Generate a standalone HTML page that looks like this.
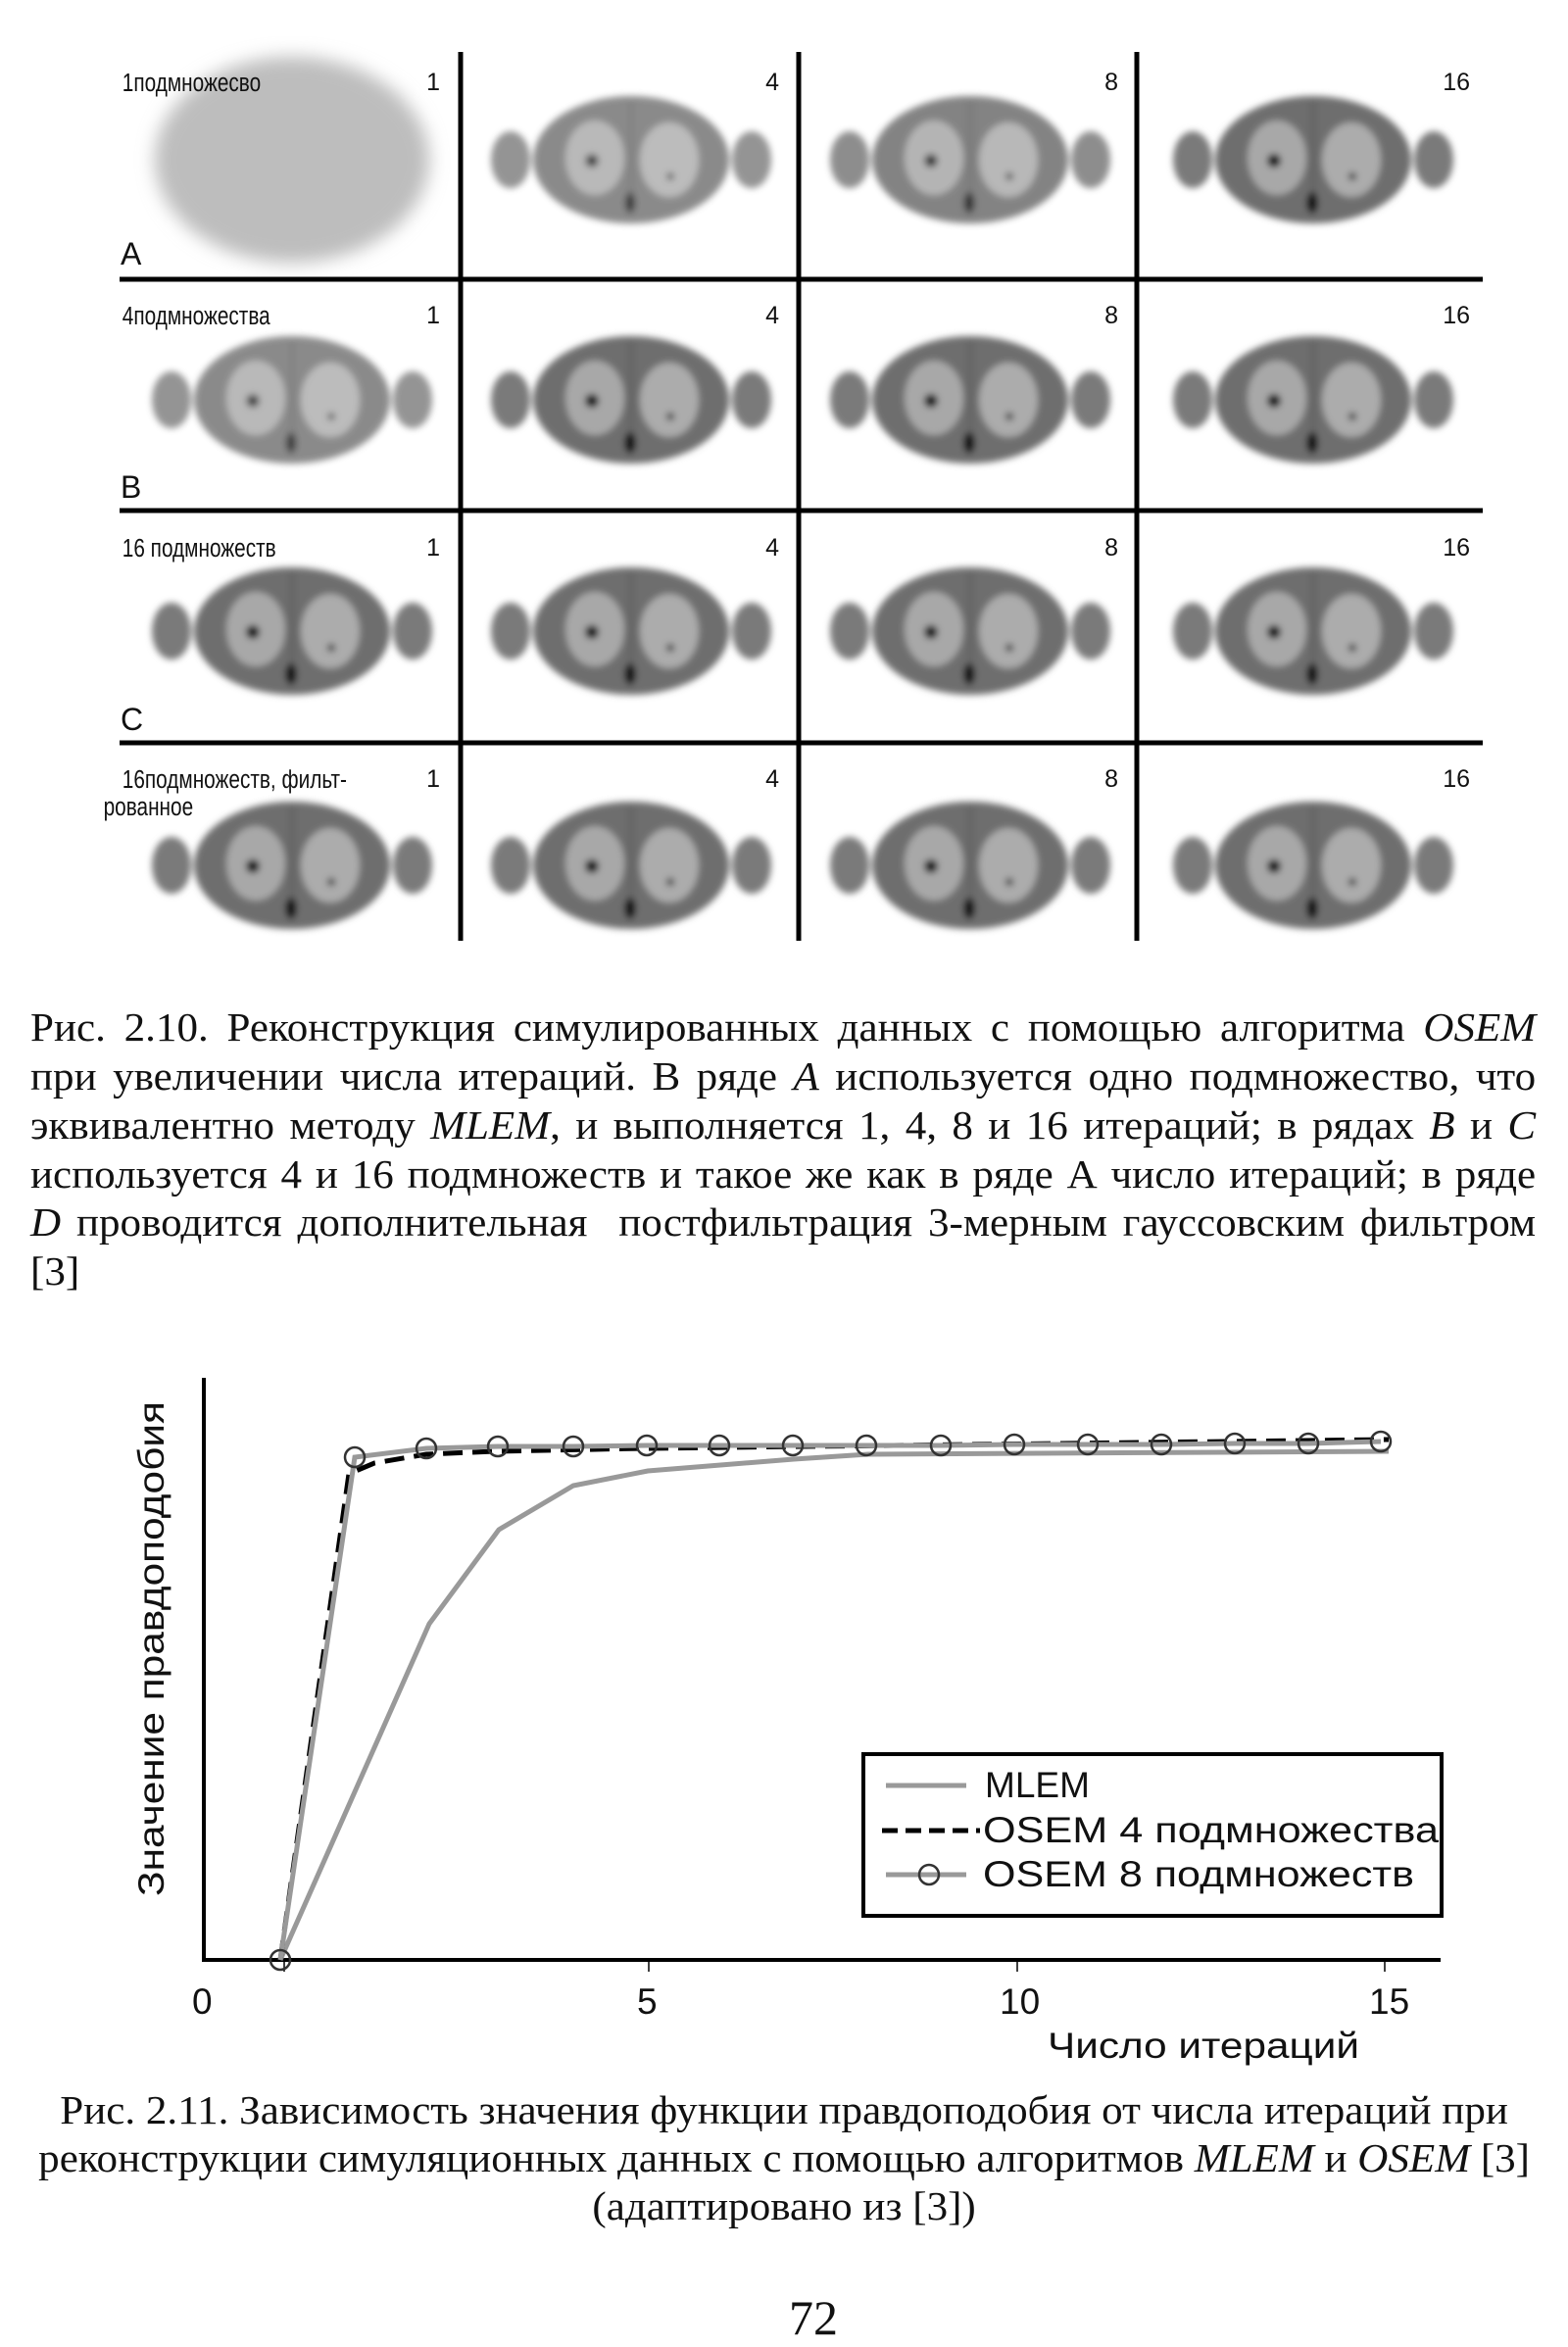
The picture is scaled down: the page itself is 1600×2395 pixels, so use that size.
<!DOCTYPE html>
<html><head><meta charset="utf-8"><style>
html,body{margin:0;padding:0;background:#fff;}
body{width:1600px;height:2390px;position:relative;overflow:hidden;font-family:"Liberation Serif",serif;color:#111;}
.ln{position:absolute;left:31px;width:1463px;transform:scaleX(1.05);transform-origin:0 0;font-size:41px;line-height:50px;height:50px;text-align:justify;text-align-last:justify;white-space:nowrap;}
.lnl{text-align-last:left;}
.c{position:absolute;left:0;width:1524px;transform:scaleX(1.05);transform-origin:0 0;font-size:41px;line-height:50px;text-align:center;white-space:nowrap;}
</style></head><body>
<svg width="1600" height="980" style="position:absolute;left:0;top:0">
<defs>
<filter id="b2"><feGaussianBlur stdDeviation="3.5"/></filter>
<filter id="b6"><feGaussianBlur stdDeviation="9"/></filter>
<g id="ph">
 <g filter="url(#b2)">
 <ellipse cx="-123" cy="0" rx="20" ry="29" fill="#7a7a7a"/>
 <ellipse cx="123" cy="0" rx="20" ry="29" fill="#7a7a7a"/>
 <ellipse cx="0" cy="0" rx="100" ry="65" fill="#6e6e6e"/>
 <ellipse cx="-37" cy="-2" rx="30" ry="38" fill="#a8a8a8"/>
 <ellipse cx="39" cy="0" rx="30" ry="38" fill="#acacac"/>
 <rect x="-4" y="-60" width="8" height="110" fill="#666"/>
 <circle cx="-40" cy="1" r="7" fill="#111"/>
 <circle cx="40" cy="17" r="4" fill="#333"/>
 <ellipse cx="-1" cy="44" rx="6" ry="11" fill="#111"/>
 </g>
</g>
</defs>
<ellipse cx="298" cy="163" rx="140" ry="105" fill="#bdbdbd" filter="url(#b6)"/>
<use href="#ph" x="644" y="163" opacity="0.8"/>
<use href="#ph" x="990" y="163" opacity="0.85"/>
<use href="#ph" x="1340" y="163"/>
<use href="#ph" x="298" y="408" opacity="0.8"/>
<use href="#ph" x="644" y="408"/>
<use href="#ph" x="990" y="408"/>
<use href="#ph" x="1340" y="408"/>
<use href="#ph" x="298" y="644"/>
<use href="#ph" x="644" y="644"/>
<use href="#ph" x="990" y="644"/>
<use href="#ph" x="1340" y="644"/>
<use href="#ph" x="298" y="883"/>
<use href="#ph" x="644" y="883"/>
<use href="#ph" x="990" y="883"/>
<use href="#ph" x="1340" y="883"/>
<g stroke="#000" stroke-width="5">
<line x1="470" y1="53" x2="470" y2="960"/>
<line x1="815" y1="53" x2="815" y2="960"/>
<line x1="1160" y1="53" x2="1160" y2="960"/>
<line x1="122" y1="285" x2="1513" y2="285"/>
<line x1="122" y1="521" x2="1513" y2="521"/>
<line x1="122" y1="758" x2="1513" y2="758"/>
</g>
<g font-family="Liberation Sans, sans-serif" font-size="26" fill="#111" transform="scale(0.8,1)">
<text x="156" y="93">1подмножесво</text>
<text x="156" y="331">4подмножества</text>
<text x="156" y="568">16 подмножеств</text>
<text x="156" y="804">16подмножеств, фильт-</text>
<text x="132" y="832">рованное</text>
</g>
<g font-family="Liberation Sans, sans-serif" font-size="25" fill="#111" text-anchor="end">
<text x="449" y="92">1</text><text x="795" y="92">4</text><text x="1141" y="92">8</text><text x="1500" y="92">16</text>
<text x="449" y="330">1</text><text x="795" y="330">4</text><text x="1141" y="330">8</text><text x="1500" y="330">16</text>
<text x="449" y="567">1</text><text x="795" y="567">4</text><text x="1141" y="567">8</text><text x="1500" y="567">16</text>
<text x="449" y="803">1</text><text x="795" y="803">4</text><text x="1141" y="803">8</text><text x="1500" y="803">16</text>
</g>
<g font-family="Liberation Sans, sans-serif" font-size="32" fill="#111">
<text x="123" y="270">A</text><text x="123" y="508">B</text><text x="123" y="745">C</text>
</g>
</svg>

<div class="ln" style="top:1023px">Рис. 2.10. Реконструкция симулированных данных с помощью алгоритма <i>OSEM</i></div>
<div class="ln" style="top:1073px">при увеличении числа итераций. В ряде <i>A</i> используется одно подмножество, что</div>
<div class="ln" style="top:1123px">эквивалентно методу <i>MLEM</i>, и выполняется 1, 4, 8 и 16 итераций; в рядах <i>B</i> и <i>C</i></div>
<div class="ln" style="top:1173px">используется 4 и 16 подмножеств и такое же как в ряде А число итераций; в ряде</div>
<div class="ln" style="top:1222px"><i>D</i> проводится дополнительная &nbsp;постфильтрация 3-мерным гауссовским фильтром</div>
<div class="ln lnl" style="top:1272px">[3]</div>

<svg width="1600" height="750" style="position:absolute;left:0;top:1390px" font-family="Liberation Sans, sans-serif">
<g transform="translate(0,-1390)">
<line x1="208" y1="1406" x2="208" y2="2002" stroke="#000" stroke-width="4"/>
<line x1="206" y1="2000" x2="1470" y2="2000" stroke="#000" stroke-width="4"/>
<g stroke="#000" stroke-width="1.5"><line x1="290" y1="2000" x2="290" y2="2012"/><line x1="662" y1="2000" x2="662" y2="2012"/><line x1="1038" y1="2000" x2="1038" y2="2012"/><line x1="1413" y1="2000" x2="1413" y2="2012"/></g>
<polyline fill="none" stroke="#999" stroke-width="5" points="286,2000 438,1657 509,1561 585,1516 661,1501 810,1489 886,1484 1417,1481"/>
<polyline fill="none" stroke="#000" stroke-width="5" stroke-dasharray="20,10" points="286,2000 356,1504 382,1493 435,1484 504,1481 657,1478 1417,1469"/>
<polyline fill="none" stroke="#999" stroke-width="5" points="286,2000 362,1487 435,1478 508,1476 585,1476 660,1475 734,1475 809,1475 884,1475 960,1475 1035,1474 1110,1474 1185,1474 1260,1473 1335,1473 1409,1471"/>
<g fill="none" stroke="#333" stroke-width="2.5">
<circle cx="286" cy="2000" r="10"/><circle cx="362" cy="1487" r="10"/><circle cx="435" cy="1478" r="10"/><circle cx="508" cy="1476" r="10"/><circle cx="585" cy="1476" r="10"/><circle cx="660" cy="1475" r="10"/><circle cx="734" cy="1475" r="10"/><circle cx="809" cy="1475" r="10"/><circle cx="884" cy="1475" r="10"/><circle cx="960" cy="1475" r="10"/><circle cx="1035" cy="1474" r="10"/><circle cx="1110" cy="1474" r="10"/><circle cx="1185" cy="1474" r="10"/><circle cx="1260" cy="1473" r="10"/><circle cx="1335" cy="1473" r="10"/><circle cx="1409" cy="1471" r="10"/>
</g>
<rect x="881" y="1790" width="590" height="165" fill="#fff" stroke="#000" stroke-width="4"/>
<line x1="904" y1="1822" x2="986" y2="1822" stroke="#999" stroke-width="5"/>
<line x1="900" y1="1868" x2="1000" y2="1868" stroke="#000" stroke-width="5" stroke-dasharray="16,8"/>
<line x1="904" y1="1913" x2="986" y2="1913" stroke="#999" stroke-width="5"/>
<circle cx="948" cy="1913" r="10" fill="none" stroke="#333" stroke-width="2.5"/>
<g font-size="37" fill="#111">
<text x="1005" y="1834">MLEM</text>
<text x="1003" y="1880" textLength="465" lengthAdjust="spacingAndGlyphs">OSEM 4 подмножества</text>
<text x="1003" y="1925" textLength="440" lengthAdjust="spacingAndGlyphs">OSEM 8 подмножеств</text>
<text x="196" y="2055">0</text><text x="650" y="2055">5</text><text x="1020" y="2055">10</text><text x="1397" y="2055">15</text>
<text x="1069" y="2100" textLength="318" lengthAdjust="spacingAndGlyphs">Число итераций</text>
<text transform="translate(167,1935) rotate(-90)" textLength="505" lengthAdjust="spacingAndGlyphs">Значение правдоподобия</text>
</g>
</g>
</svg>

<div class="c" style="top:2128px">Рис. 2.11. Зависимость значения функции правдоподобия от числа итераций при</div>
<div class="c" style="top:2177px">реконструкции симуляционных данных с помощью алгоритмов <i>MLEM</i> и <i>OSEM</i> [3]</div>
<div class="c" style="top:2226px">(адаптировано из [3])</div>
<div style="position:absolute;left:0;width:1660px;top:2335px;font-size:50px;line-height:60px;text-align:center;">72</div>
</body></html>
